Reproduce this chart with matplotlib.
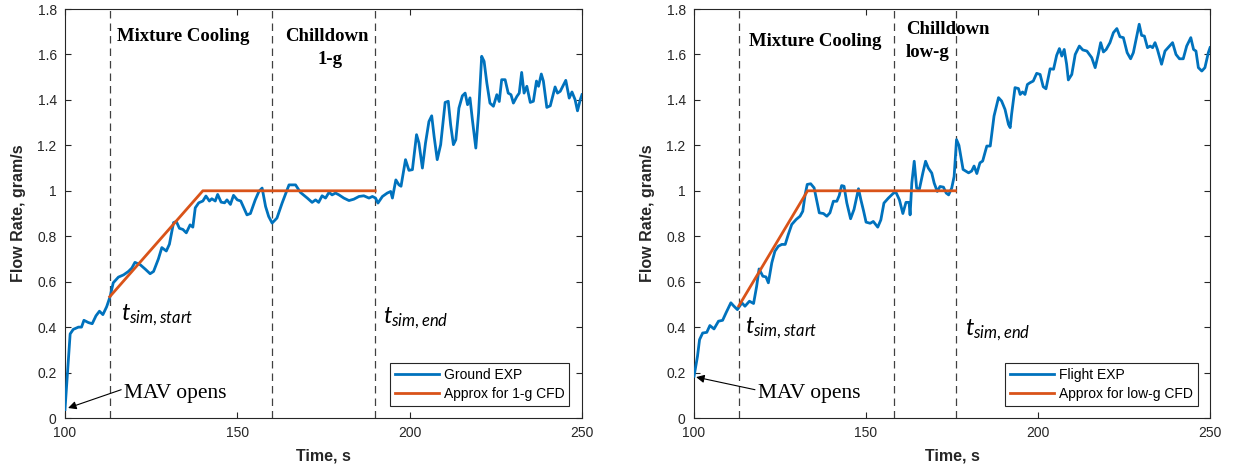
import matplotlib.pyplot as plt

# =========================
# Measured flow rates (grams/s) vs time (s)
# =========================
ground_t = [100.0, 101.5, 102.4, 103.9, 104.8, 105.5, 106.8, 107.9, 109.0, 110.0,
            111.0, 112.1, 113.1, 114.0, 115.5, 117.0, 118.4, 119.4, 120.3, 121.8,
            123.3, 124.7, 125.7, 127.1, 128.1, 129.4, 130.3, 131.5, 132.3, 133.2,
            134.2, 135.2, 136.3, 137.1, 137.8, 138.8, 140.0, 140.9, 141.9, 142.6,
            143.6, 144.3, 145.3, 146.3, 147.0, 148.0, 148.9, 150.0, 151.0, 152.8,
            153.8, 155.2, 156.3, 157.2, 158.2, 159.1, 160.1, 161.5, 163.0, 165.0,
            166.9, 168.3, 170.3, 171.7, 172.7, 173.6, 174.6, 175.6, 176.6, 177.5,
            178.5, 179.5, 180.9, 182.4, 183.8, 185.3, 186.7, 188.2, 189.2, 190.1,
            190.8, 192.1, 193.5, 194.5, 195.0, 196.0, 196.9, 197.5, 198.8, 199.8,
            200.8, 202.0, 202.7, 203.7, 204.6, 205.6, 206.4, 207.1, 208.0, 209.0,
            210.3, 211.2, 211.9, 212.7, 213.4, 214.3, 215.3, 216.1, 216.8, 217.5,
            218.2, 219.2, 220.0, 220.9, 221.6, 222.4, 223.3, 224.3, 225.3, 226.0,
            226.7, 227.7, 228.6, 229.4, 230.1, 231.1, 231.8, 232.5, 233.2, 234.0,
            235.0, 235.9, 236.8, 237.4, 238.2, 238.8, 239.8, 240.8, 242.2, 242.9,
            243.7, 245.3, 246.3, 247.1, 248.0, 248.7, 249.5, 250.0]
ground_q = [0.037, 0.37, 0.39, 0.40, 0.40, 0.43, 0.42, 0.415, 0.45, 0.47,
            0.455, 0.49, 0.535, 0.595, 0.62, 0.63, 0.645, 0.66, 0.685, 0.675,
            0.655, 0.635, 0.645, 0.70, 0.75, 0.735, 0.765, 0.86, 0.865, 0.835,
            0.83, 0.815, 0.85, 0.84, 0.925, 0.947, 0.955, 0.977, 0.955, 0.965,
            0.955, 0.984, 0.95, 0.947, 0.96, 0.94, 0.98, 0.96, 0.955, 0.894,
            0.90, 0.96, 0.998, 1.012, 0.931, 0.887, 0.858, 0.88, 0.946, 1.026,
            1.026, 0.993, 0.968, 0.949, 0.96, 0.949, 0.978, 0.968, 0.993, 0.982,
            0.99, 0.982, 0.968, 0.957, 0.963, 0.975, 0.978, 0.968, 0.975, 0.968,
            0.946, 0.975, 0.99, 0.997, 0.968, 1.048, 1.026, 1.02, 1.137, 1.09,
            1.093, 1.247, 1.21, 1.10, 1.21, 1.305, 1.33, 1.239, 1.137, 1.203,
            1.389, 1.394, 1.29, 1.203, 1.225, 1.364, 1.418, 1.43, 1.379, 1.409,
            1.313, 1.188, 1.342, 1.592, 1.57, 1.474, 1.386, 1.372, 1.423, 1.393,
            1.489, 1.489, 1.43, 1.423, 1.386, 1.415, 1.43, 1.521, 1.43, 1.46,
            1.389, 1.394, 1.483, 1.46, 1.514, 1.483, 1.367, 1.374, 1.457, 1.43,
            1.438, 1.486, 1.408, 1.435, 1.401, 1.352, 1.401, 1.423]

flight_t = [100.0, 101.0, 101.6, 102.5, 103.7, 104.6, 105.8, 107.1, 108.3, 109.3,
            110.7, 111.6, 112.6, 113.9, 114.8, 116.1, 117.3, 118.2, 118.9, 120.0,
            120.9, 121.6, 122.6, 123.5, 124.5, 125.5, 126.5, 127.4, 128.4, 129.7,
            130.8, 131.6, 132.3, 132.9, 133.9, 134.9, 135.7, 136.4, 137.6, 138.6,
            139.5, 140.5, 141.5, 142.2, 142.9, 143.6, 144.4, 145.5, 146.5, 147.8,
            148.5, 149.3, 150.0, 151.2, 152.1, 153.4, 154.3, 155.2, 156.5, 158.0,
            158.7, 159.7, 160.7, 161.6, 162.5, 162.8, 163.3, 164.0, 164.7, 165.5,
            166.5, 167.3, 168.1, 169.1, 169.8, 170.7, 171.5, 172.5, 173.3, 174.0,
            174.9, 175.6, 176.3, 177.0, 178.2, 179.8, 180.7, 181.4, 182.2, 183.1,
            183.9, 185.1, 186.1, 187.2, 188.5, 189.4, 190.4, 191.4, 191.9, 192.3,
            193.3, 194.3, 194.8, 195.5, 196.2, 196.9, 197.7, 198.6, 199.6, 200.6,
            201.5, 202.3, 203.5, 204.5, 205.4, 206.2, 206.9, 207.6, 208.3, 208.8,
            209.8, 210.8, 212.0, 213.0, 214.2, 215.6, 216.6, 217.5, 218.2, 219.0,
            219.8, 220.9, 221.9, 222.9, 223.8, 224.8, 225.9, 226.9, 227.7, 228.7,
            229.4, 230.1, 230.9, 231.8, 232.6, 233.3, 234.0, 234.7, 235.9, 236.9,
            238.2, 239.1, 240.1, 241.1, 242.2, 243.2, 244.4, 245.2, 245.9, 246.6,
            247.6, 248.5, 249.5, 250.0]
flight_q = [0.184, 0.272, 0.345, 0.374, 0.377, 0.407, 0.392, 0.426, 0.43, 0.463,
            0.507, 0.492, 0.477, 0.507, 0.492, 0.514, 0.504, 0.58, 0.656, 0.624,
            0.621, 0.595, 0.683, 0.734, 0.756, 0.764, 0.764, 0.808, 0.852, 0.874,
            0.888, 0.91, 0.984, 1.028, 1.031, 1.013, 0.954, 0.903, 0.90, 0.888,
            0.903, 0.954, 0.954, 0.979, 1.023, 1.02, 0.947, 0.877, 0.918, 1.009,
            0.96, 0.91, 0.862, 0.857, 0.865, 0.84, 0.872, 0.946, 0.968, 0.99,
            0.993, 0.96, 0.90, 0.949, 0.949, 0.894, 1.034, 1.13, 1.012, 1.007,
            1.078, 1.13, 1.10, 1.078, 1.034, 0.997, 1.019, 1.016, 0.99, 0.982,
            1.012, 1.063, 1.225, 1.20, 1.094, 1.079, 1.087, 1.109, 1.076, 1.123,
            1.131, 1.197, 1.197, 1.329, 1.41, 1.395, 1.358, 1.292, 1.278, 1.336,
            1.454, 1.45, 1.424, 1.435, 1.424, 1.468, 1.476, 1.483, 1.517, 1.512,
            1.458, 1.449, 1.537, 1.535, 1.596, 1.626, 1.593, 1.622, 1.557, 1.488,
            1.512, 1.60, 1.637, 1.62, 1.615, 1.586, 1.542, 1.60, 1.652, 1.611,
            1.622, 1.652, 1.696, 1.714, 1.678, 1.674, 1.608, 1.581, 1.608, 1.681,
            1.733, 1.684, 1.681, 1.63, 1.637, 1.63, 1.652, 1.622, 1.557, 1.615,
            1.637, 1.652, 1.60, 1.581, 1.581, 1.637, 1.674, 1.622, 1.615, 1.542,
            1.527, 1.542, 1.608, 1.63]

# CFD approximation: linear ramp then constant 1 g/s
ground_cfd_t = [113, 140, 190]
ground_cfd_q = [0.534, 1.0, 1.0]
flight_cfd_t = [113, 133, 176]
flight_cfd_q = [0.493, 1.0, 1.0]

# phase boundaries (start, chilldown begins, sim end)
ground_phases = [113, 160, 190]
flight_phases = [113, 158, 176]

BLUE = "#0072BD"
ORANGE = "#D95319"
AXC = "#262626"

plt.rcParams["font.family"] = ["Liberation Sans", "DejaVu Sans"]
plt.rcParams["mathtext.fontset"] = "custom"
plt.rcParams["mathtext.it"] = "Lato:italic"
plt.rcParams["mathtext.rm"] = "Lato"


def style_axes(ax):
    ax.set_xlim(100, 250)
    ax.set_ylim(0, 1.8)
    ax.set_xticks([100, 150, 200, 250])
    ax.set_yticks([0, 0.2, 0.4, 0.6, 0.8, 1, 1.2, 1.4, 1.6, 1.8])
    ax.set_yticklabels(["0", "0.2", "0.4", "0.6", "0.8", "1", "1.2", "1.4", "1.6", "1.8"])
    ax.tick_params(direction="in", top=True, right=True, length=4, width=0.8,
                   labelsize=10, colors=AXC, labelcolor=AXC, pad=6)
    for sp in ax.spines.values():
        sp.set_color(AXC)
        sp.set_linewidth(0.8)
    ax.set_xlabel("Time, s", fontsize=11.5, fontweight="bold", color=AXC, labelpad=6)
    ax.set_ylabel("Flow Rate, gram/s", fontsize=11.5, fontweight="bold", color=AXC, labelpad=8)


def draw_panel(ax, t, q, cfd_t, cfd_q, phases, exp_label, cfd_label):
    for x in phases:
        ax.axvline(x, color="#404040", lw=0.9, ls=(0, (6, 4)), zorder=1)
    ax.plot(t, q, color=BLUE, lw=2.0, label=exp_label, zorder=3)
    ax.plot(cfd_t, cfd_q, color=ORANGE, lw=2.0, label=cfd_label, zorder=4)
    style_axes(ax)
    leg = ax.legend(loc="lower right", fontsize=10, fancybox=False, framealpha=1,
                    edgecolor=AXC, handlelength=3.2, handletextpad=0.35,
                    borderpad=0.35, labelspacing=0.35, borderaxespad=0.9)
    leg.get_frame().set_linewidth(0.8)


fig = plt.figure(figsize=(12.33, 4.75), dpi=100)
ax1 = fig.add_axes([0.0527, 0.12, 0.4193, 0.861])
ax2 = fig.add_axes([0.5629, 0.12, 0.4185, 0.861])

draw_panel(ax1, ground_t, ground_q, ground_cfd_t, ground_cfd_q, ground_phases,
           "Ground EXP", "Approx for 1-g CFD")
draw_panel(ax2, flight_t, flight_q, flight_cfd_t, flight_cfd_q, flight_phases,
           "Flight EXP", "Approx for low-g CFD")

serif = "Liberation Serif"

# left panel annotations
ax1.text(134.3, 1.678, "Mixture Cooling", family=serif, fontweight="bold",
         fontsize=13.5, ha="center", va="center")
ax1.text(175.9, 1.678, "Chilldown", family=serif, fontweight="bold",
         fontsize=13.5, ha="center", va="center")
ax1.text(176.9, 1.577, "1-g", family=serif, fontweight="bold",
         fontsize=13.5, ha="center", va="center")
ax1.text(116.3, 0.43, r"$t_{sim,start}$", fontsize=17, ha="left", va="baseline")
ax1.text(192.4, 0.42, r"$t_{sim,end}$", fontsize=17, ha="left", va="baseline")
ax1.annotate("MAV opens", xy=(100.9, 0.044), xytext=(117.2, 0.088),
             family=serif, fontsize=15.5, ha="left", va="baseline",
             arrowprops=dict(arrowstyle="-|>", color="k", lw=0.8, mutation_scale=12,
                             shrinkA=0, shrinkB=0, relpos=(-0.03, 0.7)))

# right panel annotations
ax2.text(135.2, 1.656, "Mixture Cooling", family=serif, fontweight="bold",
         fontsize=13.5, ha="center", va="center")
ax2.text(161.6, 1.709, "Chilldown", family=serif, fontweight="bold",
         fontsize=13.5, ha="left", va="center")
ax2.text(161.6, 1.608, "low-g", family=serif, fontweight="bold",
         fontsize=13.5, ha="left", va="center")
ax2.text(114.8, 0.374, r"$t_{sim,start}$", fontsize=17, ha="left", va="baseline")
ax2.text(178.8, 0.366, r"$t_{sim,end}$", fontsize=17, ha="left", va="baseline")
ax2.annotate("MAV opens", xy=(100.6, 0.18), xytext=(118.6, 0.088),
             family=serif, fontsize=15.5, ha="left", va="baseline",
             arrowprops=dict(arrowstyle="-|>", color="k", lw=0.8, mutation_scale=12,
                             shrinkA=0, shrinkB=0, relpos=(-0.03, 0.7)))

fig.savefig("out.png", dpi=100)
